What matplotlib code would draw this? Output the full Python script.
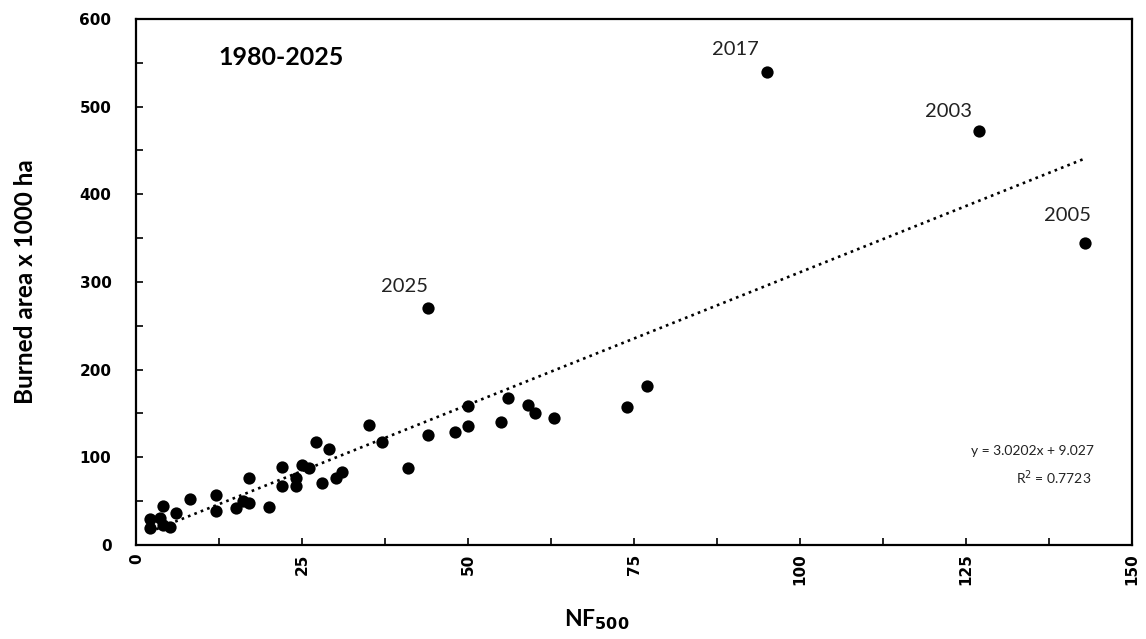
import matplotlib
matplotlib.use("Agg")
import matplotlib.pyplot as plt
from matplotlib.ticker import MultipleLocator

# ---- data ----
nf500 = [2, 2, 4, 3.5, 4, 5, 6, 8, 12, 12, 15, 16, 17, 17, 20, 22, 22, 24, 24, 25,
         26, 27, 28, 29, 30, 31, 35, 37, 41, 44, 44, 48, 50, 50, 55, 56, 59, 60, 63,
         74, 77, 95, 127, 143]
burned = [19, 30, 44, 31, 23, 21, 36, 52, 57, 39, 42, 50, 48, 76, 43, 89, 67, 76, 67, 91,
          88, 117, 71, 109, 76, 83, 137, 117, 88, 125, 270, 129, 136, 159, 140, 168, 160, 150, 145,
          157, 181, 540, 472, 345]
labelled_years = ["2017", "2003", "2005", "2025"]
labelled_x = [95, 127, 143, 44]
labelled_y = [540, 472, 345, 270]
label_offsets_px = [(-31, 22), (-30, 20), (-18, 27), (-24, 22)]

slope = 3.0202
intercept = 9.027
r2 = 0.7723
period = "1980-2025"

x_ticks = [0, 25, 50, 75, 100, 125, 150]
y_ticks = [0, 100, 200, 300, 400, 500, 600]

# ---- figure ----
fig = plt.figure(figsize=(11.46, 6.39), dpi=100)
ax = fig.add_axes([0.1191, 0.1471, 0.8683, 0.8232])

ax.scatter(nf500, burned, s=78, color="black", zorder=3, linewidths=0)

xmin, xmax = min(nf500), max(nf500)
ax.plot([xmin, xmax], [slope * xmin + intercept, slope * xmax + intercept],
        linestyle=(0, (1, 1.6)), color="black", linewidth=1.9, zorder=2)

for yr, xv, yv, (dx, dy) in zip(labelled_years, labelled_x, labelled_y, label_offsets_px):
    ax.annotate(yr, (xv, yv), xytext=(dx * 0.72, dy * 0.72), textcoords="offset points",
                ha="center", va="center", fontsize=14.5, family="Lato", color="#222222")

ax.text(21.8, 556, period, ha="center", va="center", fontsize=18, fontweight="bold",
        family="Lato")

ax.text(0.962, 0.178, f"y = {slope}x + {intercept}", transform=ax.transAxes,
        ha="right", va="center", fontsize=10, family="Lato", color="#222222")
ax.text(0.922, 0.128, f"R$^2$ = {r2}", transform=ax.transAxes,
        ha="center", va="center", fontsize=10, family="Lato", color="#222222")

ax.set_xlim(0, 150)
ax.set_ylim(0, 600)
ax.set_xticks(x_ticks)
ax.set_yticks(y_ticks)
ax.xaxis.set_minor_locator(MultipleLocator(12.5))
ax.yaxis.set_minor_locator(MultipleLocator(50))
ax.tick_params(which="both", direction="in", top=False, right=False, width=1.2,
               labelsize=11, colors="black")
ax.tick_params(which="major", length=5)
ax.tick_params(which="minor", length=5)
ax.tick_params(axis="x", pad=6)
ax.tick_params(axis="y", pad=18)
for lab in ax.get_xticklabels():
    lab.set_rotation(90)
    lab.set_fontweight("bold")
for lab in ax.get_yticklabels():
    lab.set_fontweight("bold")

for sp in ax.spines.values():
    sp.set_linewidth(1.6)
    sp.set_color("black")

ax.set_ylabel("Burned area x 1000 ha", fontsize=17.5, fontweight="bold", family="Lato")
ax.yaxis.set_label_coords(-0.1, 0.5)
ax.set_xlabel("NF$_{\\mathbf{500}}$", fontsize=16.5, fontweight="bold", family="Lato")
ax.xaxis.set_label_coords(0.463, -0.118)

fig.savefig("out.png", dpi=100)
